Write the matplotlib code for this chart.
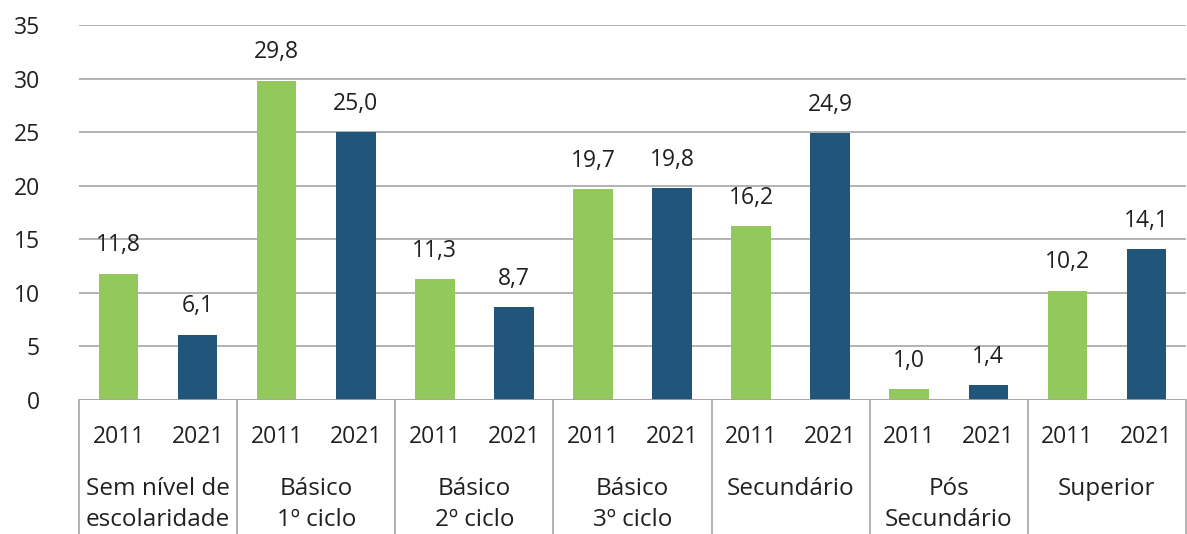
import matplotlib
matplotlib.use("Agg")
import matplotlib.pyplot as plt
from matplotlib.transforms import blended_transform_factory

groups = ["Sem nível de\nescolaridade", "Básico\n1º ciclo", "Básico\n2º ciclo", "Básico\n3º ciclo",
          "Secundário", "Pós\nSecundário", "Superior"]
years = ["2011", "2021"]
v2011 = [11.8, 29.8, 11.3, 19.7, 16.2, 1.0, 10.2]
v2021 = [6.1, 25.0, 8.7, 19.8, 24.9, 1.4, 14.1]

green = "#92C85C"
blue = "#22557A"
txt = "#231F20"
plt.rcParams['font.family'] = ['Open Sans', 'DejaVu Sans']
FS = 16.5
FSG = 17.5

W, H = 1187, 534
fig = plt.figure(figsize=(W/100, H/100), dpi=100)
left, right, top, bottom = 79, 1186, 25, 400
ax = fig.add_axes([left/W, 1-bottom/H, (right-left)/W, (bottom-top)/H])

n = len(groups)
x11 = [2*i for i in range(n)]
x21 = [2*i+1 for i in range(n)]
ax.bar(x11, v2011, width=0.5, color=green, zorder=3)
ax.bar(x21, v2021, width=0.5, color=blue, zorder=3)

def fmt(v):
    return f"{v:.1f}".replace(".", ",")

for xs, vs in ((x11, v2011), (x21, v2021)):
    for x, v in zip(xs, vs):
        ax.annotate(fmt(v), (x, v), xytext=(0, 16), textcoords="offset points",
                    ha="center", va="baseline", fontsize=FS, color=txt)

ax.set_xlim(-0.5, 2*n-0.5)
ax.set_ylim(0, 35)
ax.set_yticks(range(0, 36, 5))
ax.tick_params(axis='y', length=0, labelsize=FS, labelcolor=txt, pad=28)
ax.set_xticks([])
ax.grid(axis='y', color="#A6A6A6", linewidth=1.2, zorder=0)
for s in ax.spines.values():
    s.set_visible(False)
ax.axhline(0, color="#A6A6A6", linewidth=1.2, zorder=4)

trans = blended_transform_factory(ax.transData, ax.transAxes)
px = 1/(bottom-top)
ybot = -(H-bottom)*px
for i in range(n+1):
    xb = -0.5 + 2*i
    ax.plot([xb, xb], [0, ybot], transform=trans, color="#A6A6A6", linewidth=1.2, clip_on=False)

for i in range(n):
    ax.text(x11[i], -(443-bottom)*px, years[0], transform=trans, ha="center", va="baseline",
            fontsize=FS, color=txt)
    ax.text(x21[i], -(443-bottom)*px, years[1], transform=trans, ha="center", va="baseline",
            fontsize=FS, color=txt)
    lines = groups[i].split("\n")
    for j, ln in enumerate(lines):
        ax.text(2*i+0.5, -(495+31*j-bottom)*px, ln, transform=trans, ha="center", va="baseline",
                fontsize=FSG, color=txt)

fig.savefig("out.png", dpi=100)
